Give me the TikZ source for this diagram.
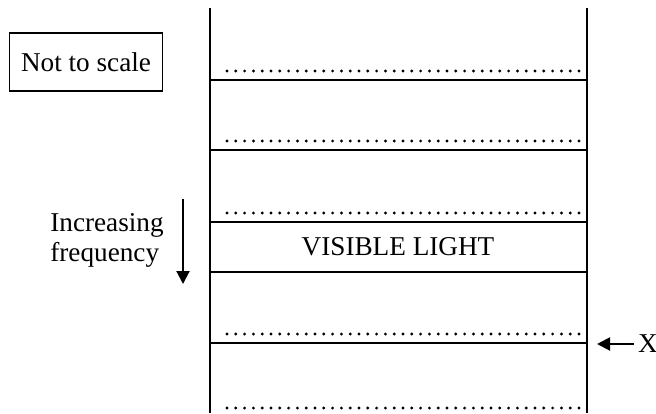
\documentclass[tikz,border=0pt]{standalone}
\usepackage{fontspec}
\setmainfont{Liberation Serif}
\usetikzlibrary{arrows.meta,positioning}
\tikzset{band/.style={line width=1pt}}
\tikzset{dotline/.style={line width=1.6pt,line cap=round,dash pattern=on 0pt off 4.4pt}}
\tikzset{ptr/.style={-{Triangle[length=6.5pt,width=6.5pt]},line width=1pt}}

\begin{document}
\begin{tikzpicture}[x=0.5pt,y=-0.5pt,font=\fontsize{13.6}{15}\selectfont]
\useasboundingbox (0,0) rectangle (656,413);
% \draw[help lines] (0,0) grid (656,413);
\coordinate (lt) at (210,8);
\coordinate (lb) at (210,413);
\coordinate (rt) at (587,8);
\coordinate (rb) at (587,413);
\draw[band] (lt) -- (lb);
\draw[band] (rt) -- (rb);
%
\foreach \y in {80,150,222,272,343}
  \draw[band] (210,\y) -- (587,\y);
\foreach \y in {71,141,213,334,408}
  \draw[dotline] (227,\y) -- (581,\y);
%
\node (scale) [draw,line width=0.75pt,minimum width=76.5pt,minimum height=29pt] at (86,62) {Not to scale};
\node (vis) at (398,247) {VISIBLE LIGHT};
\node (freq) [align=left,inner sep=0pt] at (107,240) {Increasing\\frequency};
\coordinate (fup) at (183,199);
\coordinate (fdown) at (183,284);
\path[ptr] (fup) edge (fdown);
%
\node (xlab) [inner sep=2pt] at (648,344) {X};
\coordinate (xmark) at (597,344);
\path[ptr] (xlab) edge (xmark);
\end{tikzpicture}
\end{document}
